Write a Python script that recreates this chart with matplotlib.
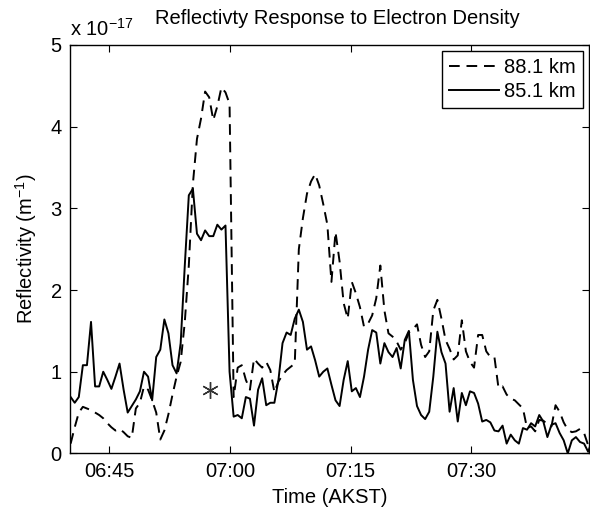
import matplotlib
matplotlib.use("Agg")
import matplotlib.pyplot as plt
import matplotlib.dates as mdates
import pandas as pd

plt.rcParams["font.family"] = ["Liberation Sans", "DejaVu Sans"]
plt.rcParams["mathtext.fontset"] = "custom"
plt.rcParams["mathtext.rm"] = "Liberation Sans"
plt.rcParams["mathtext.it"] = "Liberation Sans"

# Sample times (~30 s cadence)
t_start = "2000-01-01 06:40:12"
t_end = "2000-01-01 07:45:00"
n_samples = 129

# Reflectivity in units of 1e-17 m^-1
refl_881 = [
    0.12, 0.32, 0.50, 0.57, 0.55, 0.53, 0.50, 0.47, 0.43, 0.37,
    0.32, 0.28, 0.30, 0.26, 0.21, 0.19, 0.55, 0.62, 0.82, 0.78,
    0.65, 0.50, 0.17, 0.28, 0.48, 0.72, 0.94, 1.12, 1.60, 2.30,
    3.30, 3.85, 4.10, 4.43, 4.36, 4.08, 4.25, 4.48, 4.42, 4.28,
    0.69, 1.05, 1.08, 0.90, 0.78, 1.16, 1.10, 1.05, 1.12, 1.02,
    0.75, 0.88, 0.96, 1.02, 1.06, 1.10, 2.50, 2.88, 3.18, 3.33,
    3.42, 3.28, 3.05, 2.80, 2.10, 2.71, 2.35, 1.84, 1.65, 2.10,
    1.96, 1.79, 1.55, 1.59, 1.69, 1.90, 2.30, 1.75, 1.47, 1.43,
    1.37, 1.27, 1.35, 1.48, 1.52, 1.58, 1.33, 1.18, 1.25, 1.75,
    1.88, 1.65, 1.39, 1.28, 1.15, 1.20, 1.63, 1.25, 1.12, 1.05,
    1.45, 1.45, 1.25, 1.18, 1.18, 0.80, 0.82, 0.72, 0.67, 0.65,
    0.60, 0.55, 0.31, 0.33, 0.27, 0.41, 0.40, 0.36, 0.33, 0.59,
    0.51, 0.38, 0.29, 0.26, 0.27, 0.30, 0.25, 0.10, 0.20,
]
refl_851 = [
    0.69, 0.62, 0.69, 1.08, 1.08, 1.61, 0.82, 0.82, 1.00, 0.90,
    0.79, 0.94, 1.10, 0.78, 0.50, 0.58, 0.66, 0.76, 1.00, 0.94,
    0.65, 1.18, 1.27, 1.64, 1.47, 1.08, 0.98, 1.35, 2.29, 3.16,
    3.24, 2.69, 2.61, 2.73, 2.66, 2.66, 2.80, 2.74, 2.79, 1.00,
    0.45, 0.47, 0.43, 0.69, 0.67, 0.34, 0.78, 0.92, 0.59, 0.62,
    0.62, 0.90, 1.35, 1.48, 1.45, 1.65, 1.76, 1.61, 1.27, 1.31,
    1.14, 0.94, 1.00, 1.04, 0.84, 0.65, 0.58, 0.90, 1.13, 0.76,
    0.80, 0.69, 0.94, 1.27, 1.51, 1.48, 1.10, 1.35, 1.24, 1.18,
    1.29, 1.04, 1.39, 1.50, 0.90, 0.58, 0.47, 0.42, 0.51, 0.94,
    1.49, 1.24, 1.10, 0.51, 0.80, 0.39, 0.74, 0.59, 0.76, 0.74,
    0.61, 0.39, 0.41, 0.38, 0.28, 0.27, 0.34, 0.12, 0.23, 0.16,
    0.12, 0.31, 0.29, 0.37, 0.33, 0.47, 0.39, 0.20, 0.35, 0.37,
    0.25, 0.16, 0.00, 0.16, 0.20, 0.14, 0.12, 0.02, 0.16,
]

# Event marker
event_time = "2000-01-01 06:57:30"
event_value = 0.78

series_labels = ["88.1 km", "85.1 km"]
title_text = "Reflectivty Response to Electron Density"
xlabel_text = "Time (AKST)"
ylabel_text = "Reflectivity (m$^{-1}$)"
scale_text = "x 10$^{-17}$"
xtick_times = ["06:45", "07:00", "07:15", "07:30"]

times = pd.date_range(t_start, t_end, periods=n_samples)

FS = 14.5

fig = plt.figure(figsize=(5.90, 5.16), dpi=100)
ax = fig.add_axes([0.1186, 0.1213, 0.8797, 0.7915])

ax.plot(times, refl_881, color="black", lw=1.4, linestyle=(0, (5.5, 3.5)),
        label=series_labels[0])
ax.plot(times, refl_851, color="black", lw=1.4, linestyle="-",
        label=series_labels[1])
ax.plot(pd.Timestamp(event_time), event_value, marker=(6, 2, 0),
        color="#333333", markersize=12, markeredgewidth=1.0, linestyle="none")

ax.set_xlim(pd.Timestamp("2000-01-01 06:40:07"), pd.Timestamp("2000-01-01 07:44:36"))
ax.set_ylim(0, 5)
ax.set_yticks([0, 1, 2, 3, 4, 5])
ax.set_xticks([pd.Timestamp("2000-01-01 " + s) for s in xtick_times])
ax.xaxis.set_major_formatter(mdates.DateFormatter("%H:%M"))

ax.tick_params(direction="in", top=True, right=True, length=5, width=0.8,
               labelsize=FS, pad=6, colors="black")
for sp in ax.spines.values():
    sp.set_linewidth(1.0)

ax.set_xlabel(xlabel_text, fontsize=FS, labelpad=5)
ax.set_ylabel(ylabel_text, fontsize=FS, labelpad=8)
ax.set_title(title_text, fontsize=FS, pad=15, x=0.515)
ax.text(0.0, 1.012, scale_text, transform=ax.transAxes, fontsize=FS,
        ha="left", va="bottom")

leg = ax.legend(loc="upper right", fontsize=FS, frameon=True, fancybox=False,
                edgecolor="black", framealpha=1, borderaxespad=0.3,
                handlelength=2.5, handletextpad=0.25, borderpad=0.35,
                labelspacing=0.25)
leg.get_frame().set_linewidth(1.0)

fig.savefig("out.png", dpi=100)
